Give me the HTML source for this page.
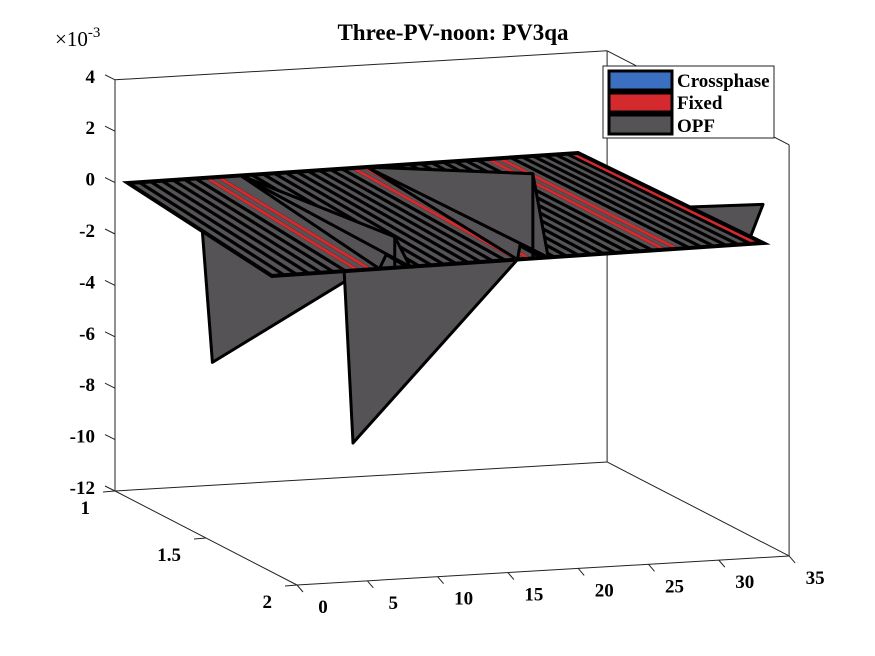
<!DOCTYPE html>
<html><head><meta charset="utf-8"><style>
html,body{margin:0;padding:0;background:#fff;}
svg{display:block;font-family:"Liberation Serif",serif;font-weight:bold;}
</style></head><body>
<svg id="chart" width="875" height="656" viewBox="0 0 875 656" xmlns="http://www.w3.org/2000/svg">
<rect width="875" height="656" fill="#fff"/>
<text x="453" y="40" text-anchor="middle" font-size="23">Three-PV-noon: PV3qa</text>
<g id="axes"></g>
<g id="surf"></g>
<g id="legend">
<rect x="603" y="66" width="171" height="72" fill="#fff" stroke="#222" stroke-width="1"/>
<rect x="609" y="71" width="63" height="19" fill="#3a6fc2" stroke="#000" stroke-width="3"/>
<text x="677" y="87" font-size="19">Crossphase</text>
<rect x="609" y="93" width="63" height="19" fill="#d42a2e" stroke="#000" stroke-width="3"/>
<text x="677" y="109" font-size="19">Fixed</text>
<rect x="609" y="115" width="63" height="19" fill="#555356" stroke="#000" stroke-width="3"/>
<text x="677" y="132" font-size="19">OPF</text>
</g>
</svg>
<script>
// ---- data ----
const busIndex = [1,2,3,4,5,6,7,8,9,10,11,12,13,14,15,16,17,18,19,20,21,22,23,24,25,26,27,28,29,30,31,32,33];
const opfBack  = [0,0,0,0,0,0,-7.2,0,0,0,0,0,0,0,0,0,-10.7,0,0,0,0,0,0,0,0,0,0,0,0,0,0,0,0];
const opfFront = [0,0,0,0,0,0,0,0,1.2,0,0,0,0,0,0,0,0,3.3,0,0,0,0,0,0,0,0,0.7,0,0,0,0,0,1.5];
const fixedStripes = [6.6,7.4,17.0,17.8,26.6,27.4,32.6];
const zTicks = [4,2,0,-2,-4,-6,-8,-10,-12];
const yTicks = [1,1.5,2];
const xTicks = [0,5,10,15,20,25,30,35];

const NS="http://www.w3.org/2000/svg";
function el(tag,attrs,parent){const e=document.createElementNS(NS,tag);for(const k in attrs)e.setAttribute(k,attrs[k]);parent.appendChild(e);return e;}
function A(x,y,z){return [115+x*14.06+(y-1)*182, 491-x*0.829+(y-1)*94-(z+12)*25.7];}
const BL=[128,183],BR=[578,153],FL=[272,276],FR=[763,243];
function uOf(k){return (k-1)/32;}
function P(k,v,z){const u=uOf(k);
  const bx=BL[0]+u*(BR[0]-BL[0]),by=BL[1]+u*(BR[1]-BL[1]);
  const fx=FL[0]+u*(FR[0]-FL[0]),fy=FL[1]+u*(FR[1]-FL[1]);
  return [bx+v*(fx-bx), by+v*(fy-by)-z*25.7];}
const pts=a=>a.map(p=>p[0].toFixed(1)+","+p[1].toFixed(1)).join(" ");

const ax=document.getElementById('axes');
function line(p,q,w,c,parent,name){const l=el('line',{x1:p[0],y1:p[1],x2:q[0],y2:q[1],stroke:c||'#222','stroke-width':w||1},parent);

return l;}
line(A(0,1,-12),A(0,1,4),1,'#222',ax,'z-axis-line');
line(A(35,1,-12),A(35,1,4),1,'#222',ax,'back-right-edge');
line(A(35,2,-12),A(35,2,4),1,'#222',ax,'front-right-edge');
line(A(0,1,4),A(35,1,4),1,'#222',ax,'top-back-edge');
line(A(35,1,4),A(35,2,4),1,'#222',ax,'top-right-edge');
line(A(0,1,-12),A(35,1,-12),1,'#222',ax,'floor-back-edge');
line(A(0,1,-12),A(0,2,-12),1,'#222',ax,'y-axis-line');
line(A(0,2,-12),A(35,2,-12),1,'#222',ax,'x-axis-line');
line(A(35,1,-12),A(35,2,-12),1,'#222',ax,'floor-right-edge');
zTicks.forEach(t=>{const p=A(0,1,t);line([p[0]-10,p[1]-5],p,1,'#222',ax,'z-tick');
 const tx=el('text',{x:p[0]-20,y:p[1]+3,'font-size':19,'text-anchor':'end'},ax);tx.textContent=t;
 
 });
yTicks.forEach(t=>{const p=A(0,t,-12);line([p[0]-12,p[1]+1],p,1,'#222',ax,'y-tick');
 const tx=el('text',{x:p[0]-25,y:p[1]+23,'font-size':19,'text-anchor':'end'},ax);tx.textContent=t;
 
 });
xTicks.forEach(t=>{const p=A(t,2,-12);line(p,[p[0]+6,p[1]+7],1,'#222',ax,'x-tick');
 const tx=el('text',{x:p[0]+26,y:p[1]+28,'font-size':19,'text-anchor':'middle'},ax);tx.textContent=t;
 
 });
const mult=el('text',{x:55,y:46,'font-size':21,'font-weight':'normal'},ax);


mult.innerHTML='×10<tspan dy="-9" font-size="15">-3</tspan>';

const s=document.getElementById('surf');
const GREY='#555356';
function tri(a,b,c,name){const p=el('polygon',{points:pts([a,b,c]),fill:GREY,stroke:'#000','stroke-width':3,'stroke-linejoin':'round'},s);

}
busIndex.forEach((k,i)=>{if(opfBack[i]<0){
  tri(P(k-1,0,0),P(k,0,opfBack[i]),P(k,1,0),'opf-drop-'+k);}});
busIndex.forEach((k,i)=>{if(opfFront[i]>0 && opfFront[i]<2 && i>20){
  tri(P(k-1,1,0),P(k,1,opfFront[i]),P(k,0.6,0),'opf-bump-'+k);}});
const plane=el('polygon',{points:pts([P(1,0,0),P(33,0,0),P(33,1,0),P(1,1,0)]),fill:GREY},s);


for(let j=0;j<=40;j++){const k=1+j*0.8;
  const gap=(k>7.8&&k<9.4);
  if(gap) continue;
  line(P(k,0,0),P(k,1,0),3.2,'#000',s,'grid-edge');}
fixedStripes.forEach(k=>{line(P(k,0,0),P(k,1,0),3,'#d42a2e',s,'fixed-stripe');});
const ol=el('polygon',{points:pts([P(1,0,0),P(33,0,0),P(33,1,0),P(1,1,0)]),fill:'none',stroke:'#000','stroke-width':4},s);


busIndex.forEach((k,i)=>{if(opfFront[i]>=2 || (opfFront[i]>0 && i<20)){
  tri(P(k,0,0),P(k,1,opfFront[i]),P(k-1,1,0),'opf-peak-'+k);
  tri(P(k,0,0),P(k,1,opfFront[i]),P(k+1,1,0),'opf-peak-right-'+k);
  line(P(k,1,opfFront[i]),P(k,1,0),3,'#000',s,'opf-peak-edge');}});
</script>
</body></html>
